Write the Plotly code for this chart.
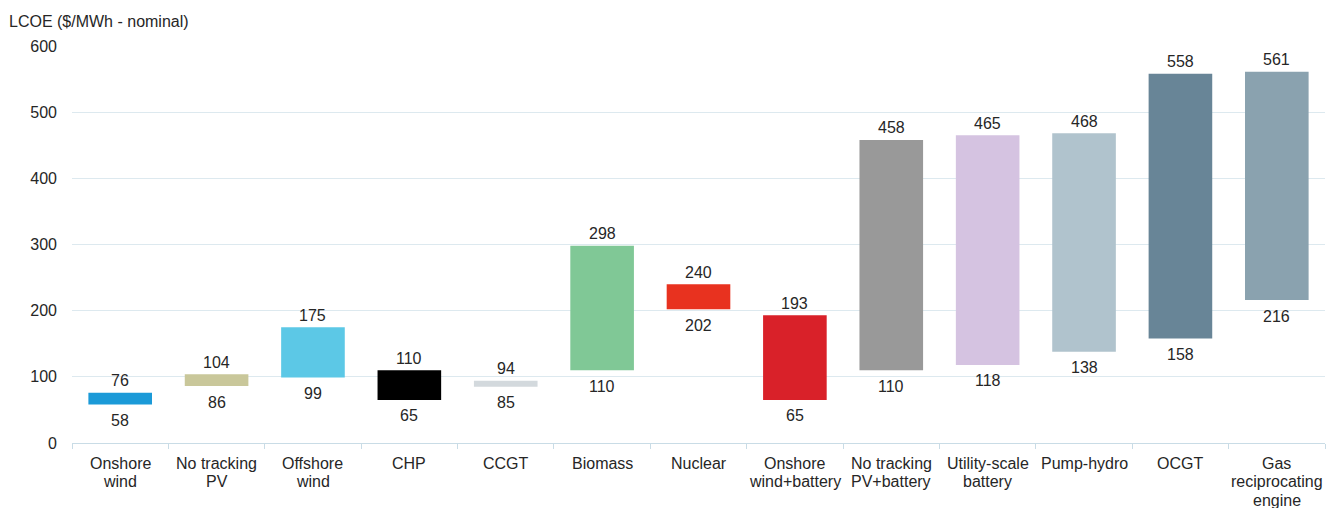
import plotly.graph_objects as go

categories = ["Onshore<br>wind", "No tracking<br>PV", "Offshore<br>wind", "CHP", "CCGT", "Biomass",
              "Nuclear", "Onshore<br>wind+battery", "No tracking<br>PV+battery", "Utility-scale<br>battery",
              "Pump-hydro", "OCGT", "Gas<br>reciprocating<br>engine"]
low_values = [58, 86, 99, 65, 85, 110, 202, 65, 110, 118, 138, 158, 216]
high_values = [76, 104, 175, 110, 94, 298, 240, 193, 458, 465, 468, 558, 561]
colors = ["#1b9ad8", "#c9c79a", "#5cc8e6", "#000000", "#d3d9dd", "#80c896", "#e8321f",
          "#d92129", "#999999", "#d5c3e1", "#b0c3cd", "#688597", "#8aa2af"]

spans = [h - l for h, l in zip(high_values, low_values)]

TXT = "#262626"
fig = go.Figure()
fig.add_trace(go.Bar(x=categories, y=spans, base=low_values, marker=dict(color=colors, line=dict(width=0)),
                     width=0.66, hoverinfo="skip"))

annotations = [dict(text="LCOE ($/MWh - nominal)", xref="paper", yref="paper", x=-0.0515, y=1.0,
                    xanchor="left", yanchor="bottom", yshift=14, showarrow=False,
                    font=dict(size=16, color=TXT))]
for c, h in zip(categories, high_values):
    annotations.append(dict(x=c, y=h, text=str(h), showarrow=False, xanchor="center", yanchor="middle",
                            yshift=12, font=dict(size=16, color=TXT)))
for c, l in zip(categories, low_values):
    annotations.append(dict(x=c, y=l, text=str(l), showarrow=False, xanchor="center", yanchor="middle",
                            yshift=-16, font=dict(size=16, color=TXT)))
# category labels, one annotation per line for tighter line spacing
for c in categories:
    for i, line in enumerate(c.split("<br>")):
        annotations.append(dict(x=c, xref="x", y=0, yref="paper", text=line, showarrow=False,
                                xanchor="center", yanchor="middle", yshift=-20 - 18.7 * i,
                                font=dict(size=16, color=TXT)))

fig.update_layout(
    width=1332, height=508,
    margin=dict(l=72, r=7, t=46, b=65),
    paper_bgcolor="white", plot_bgcolor="white",
    showlegend=False,
    font=dict(family="Liberation Sans, Arial, sans-serif", size=16, color=TXT),
    annotations=annotations,
)
fig.update_yaxes(range=[0, 600], tickvals=[0, 100, 200, 300, 400, 500, 600], showgrid=True,
                 gridcolor="#dde9ef", gridwidth=1, zeroline=False, ticklabelstandoff=14,
                 tickfont=dict(size=16), fixedrange=True, automargin=False)
fig.update_xaxes(range=[-0.5, len(categories) - 0.5], showgrid=False, showline=True,
                 linecolor="#c9dce6", linewidth=1, showticklabels=False,
                 ticks="outside", tickson="boundaries", ticklen=5, tickcolor="#c9dce6",
                 automargin=False)

fig.write_html("out.html")
